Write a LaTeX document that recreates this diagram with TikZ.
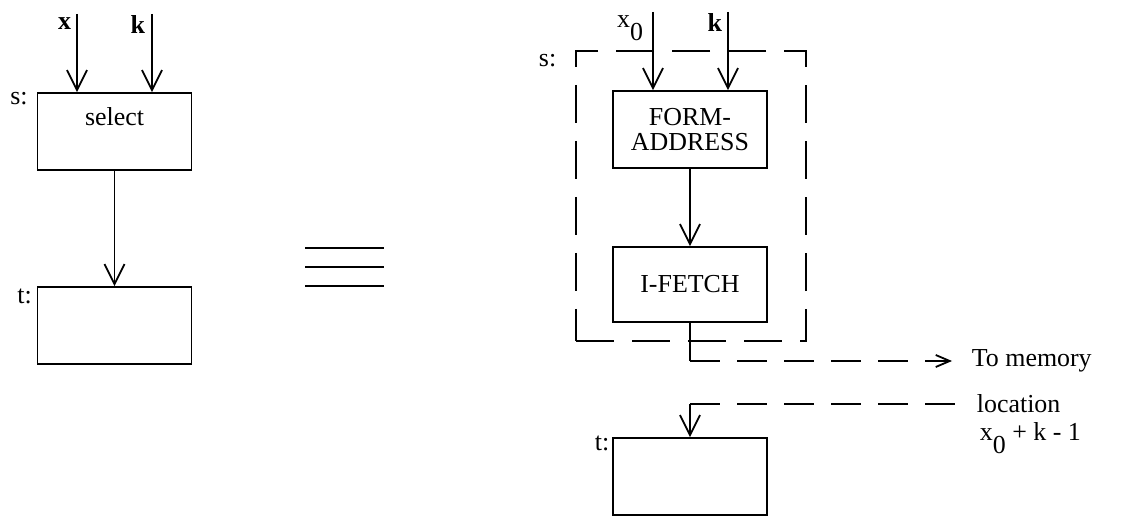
\documentclass[tikz,border=0pt]{standalone}
\usepackage{fontspec}
\setmainfont{Liberation Serif}
\usetikzlibrary{arrows.meta,positioning}

\begin{document}
\begin{tikzpicture}[x=1bp,y=-1bp,line width=1.8bp,
  font=\fontsize{26}{25}\selectfont,
  blk/.style={draw,minimum width=154bp,minimum height=77bp,inner sep=0pt,align=center},
  grp/.style={draw,dash pattern=on 38bp off 18bp,minimum width=230bp,minimum height=290bp,inner sep=0pt},
  lbl/.style={inner sep=1bp},
  flow/.style={-{Straight Barb[length=20bp,width=20bp]}},
  far/.style={dash pattern=on 30bp off 17bp}]
  \useasboundingbox (0,0) rectangle (1126,517);
  % left: the select step
  \node[blk,text depth=30bp] (sel) at (114.5,131.5) {select};
  \node[blk] (tl) at (114.5,325.5) {};
  \node[lbl,anchor=east] (sl) at ([xshift=-7bp,yshift=-6bp]sel.north west) {s:};
  \node[lbl,anchor=east] (tll) at ([xshift=-3bp,yshift=-10bp]tl.north west) {t:};
  \coordinate (xin) at (77,14); \coordinate (kin) at (152,14);
  \node[lbl,anchor=north east] (xl) at ([xshift=-4bp,yshift=-2bp]xin) {\textbf{x}};
  \node[lbl,anchor=north east] (kl) at ([xshift=-5bp]kin) {\textbf{k}};
  \draw[flow] (xin) -- (xin |- sel.north);
  \draw[flow] (kin) -- (kin |- sel.north);
  \draw[flow] (sel.south) -- (tl.north);
  % equivalence bars
  \foreach \y in {248,267,286} \draw[line width=2.2bp] (305,\y) -- (384,\y);
  % right: expanded form
  \node[grp] (sgrp) at (691,196) {};
  \node[blk] (fa) at (690,129.5) {FORM-\\ADDRESS};
  \node[blk,minimum height=75bp] (ife) at (690,284.5) {I-FETCH};
  \node[blk] (tr) at (690,476.5) {};
  \node[lbl,anchor=east] (sr) at ([xshift=-17bp,yshift=-10bp]sgrp.north west) {s:};
  \node[lbl,anchor=east] (trl) at ([xshift=-1bp,yshift=-6bp]tr.north west) {t:};
  \coordinate (x0in) at (653,12); \coordinate (k0in) at (728,12);
  \node[lbl,anchor=north east] (x0l) at ([xshift=-8bp,yshift=-2bp]x0in) {x\raisebox{-0.5em}{0}};
  \node[lbl,anchor=north east] (k0l) at ([xshift=-4bp]k0in) {\textbf{k}};
  \draw[flow] (x0in) -- (x0in |- fa.north);
  \draw[flow] (k0in) -- (k0in |- fa.north);
  \draw[flow] (fa.south) -- (ife.north);
  % memory access
  \node[lbl,anchor=west] (memto) at (970,361) {To memory};
  \node[lbl,anchor=west] (memloc) at (975,404) {location};
  \node[lbl,anchor=west] (memadr) at (978,438) {x\raisebox{-0.5em}{0} + k - 1};
  \coordinate (outc) at (ife.south |- memto.west);
  \draw (ife.south) -- (outc);
  \draw[far,-{Straight Barb[length=14bp,width=12bp]}] (outc) -- ([xshift=-18bp]memto.west);
  \coordinate (inc) at (tr.north |- memloc.west);
  \draw[far] (inc) -- ([xshift=-20bp]memloc.west);
  \draw[flow] (inc) -- (tr.north);
\end{tikzpicture}
\end{document}
